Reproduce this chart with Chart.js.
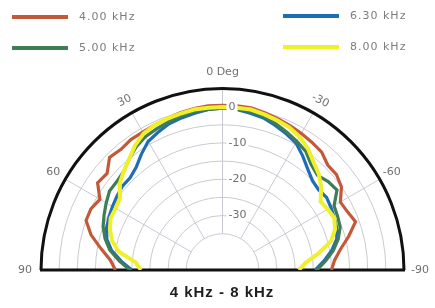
<!DOCTYPE html>
<html lang="en">
<head>
    <meta charset="UTF-8">
    <title>4 kHz - 8 kHz polar</title>
    <script src="https://cdn.jsdelivr.net/npm/chart.js"></script>
    <style>
        body {
            margin: 0;
            background-color: white;
        }
        canvas {
            display: block;
        }
    </style>
</head>
<body>
    <canvas id="polarChart" width="435" height="308"></canvas>

    <script>
        // angles in degrees, positive = left side
        const angles = [-90, -85, -80, -75, -70, -65, -60, -55, -50, -45, -40, -35, -30, -25, -20, -15, -10, -5,
                        0, 5, 10, 15, 20, 25, 30, 35, 40, 45, 50, 55, 60, 65, 70, 75, 80, 85, 90];

        const labels = ['4.00 kHz', '5.00 kHz', '6.30 kHz', '8.00 kHz'];

        // levels in dB
        const red4k    = [-15, -14, -12, -9, -6, -7, -7.5, -5, -4, -4, -2.5, -2, -1.5, -1, -0.5, 0, 0.5, 0.5,
                          0.5, 0.5, 0.3, 0, -0.5, -0.8, -1, -1, -1.5, -1, -3.5, -3, -6, -5, -5, -7.5, -11, -14, -15.5];
        const green5k  = [-19, -16.5, -14, -12, -10.5, -10, -9.5, -6.5, -7, -8, -7, -5, -4, -3, -2, -1, -0.5, -0.3,
                          -0.3, -0.5, -0.5, -1, -1.5, -2, -2.5, -3.5, -5, -6.5, -7, -7, -8, -9, -10, -11.5, -13.5, -16.5, -19.5];
        const blue63k  = [-19.5, -17, -14.5, -12.5, -11.5, -11, -10.5, -10, -10.5, -10, -8.5, -6.5, -4.5, -3.5, -2.5, -1.5, -1, -0.5,
                          -0.3, -0.5, -1, -1.5, -2, -3, -4, -6, -8, -9, -9, -9.5, -10, -10.5, -11, -12, -14, -17, -20];
        const yellow8k = [-24, -22, -18, -14, -12, -11, -11.5, -12, -9.5, -7.5, -6, -4, -2.5, -1.5, -1, -0.5, 0, 0,
                          0, 0, 0, -0.3, -0.5, -0.8, -1.5, -3, -5, -6.5, -8, -10.5, -11, -11, -12, -13.5, -16, -21, -22.5];

        const ringLevels = [-35, -30, -25, -20, -15, -10, -5, 0];
        const tickLevels = [0, -10, -20, -30];
        const spokeAngles = [-60, -30, 0, 30, 60];
        const angleLabels = ['90', '60', '30', '0 Deg', '-30', '-60', '-90'];

        const dbMin = -45;   // centre of the plot
        const dbMax = 5;     // outer black arc

        const colors = ['#c25a3a', '#3e7d55', '#1f6db6', '#f0f02a'];

        function toXY(levels) {
            return angles.map((a, i) => {
                const r = levels[i] - dbMin;
                const t = a * Math.PI / 180;
                return { x: -r * Math.sin(t), y: r * Math.cos(t) };
            });
        }

        const series = [red4k, green5k, blue63k, yellow8k];
        const drawOrder = [3, 1, 2, 0]; // lower draws on top

        const polarGrid = {
            id: 'polarGrid',
            beforeDatasetsDraw(chart) {
                const ctx = chart.ctx;
                const xs = chart.scales.x, ys = chart.scales.y;
                const cx = xs.getPixelForValue(0), cy = ys.getPixelForValue(0);
                const rad = db => xs.getPixelForValue(db - dbMin) - cx;
                ctx.save();
                ctx.strokeStyle = '#c9c9d3';
                ctx.lineWidth = 1;
                ringLevels.forEach(db => {
                    ctx.beginPath();
                    ctx.arc(cx, cy, rad(db), Math.PI, 2 * Math.PI);
                    ctx.stroke();
                });
                spokeAngles.forEach(a => {
                    const t = a * Math.PI / 180;
                    const r0 = rad(ringLevels[0]), r1 = rad(dbMax);
                    ctx.beginPath();
                    ctx.moveTo(cx - r0 * Math.sin(t), cy - r0 * Math.cos(t));
                    ctx.lineTo(cx - r1 * Math.sin(t), cy - r1 * Math.cos(t));
                    ctx.stroke();
                });
                // outer arc and base line
                ctx.strokeStyle = '#111';
                ctx.lineWidth = 3;
                ctx.beginPath();
                ctx.arc(cx, cy, rad(dbMax), Math.PI, 2 * Math.PI);
                ctx.stroke();
                ctx.beginPath();
                ctx.moveTo(cx - rad(dbMax) - 1, cy);
                ctx.lineTo(cx + rad(dbMax) + 1, cy);
                ctx.stroke();
                ctx.restore();
            },
            afterDatasetsDraw(chart) {
                const ctx = chart.ctx;
                const xs = chart.scales.x, ys = chart.scales.y;
                const cx = xs.getPixelForValue(0), cy = ys.getPixelForValue(0);
                const rad = db => xs.getPixelForValue(db - dbMin) - cx;
                ctx.save();
                ctx.font = '11px "DejaVu Sans"';
                ctx.textBaseline = 'middle';
                ctx.textAlign = 'left';
                tickLevels.forEach(db => {
                    const txt = db === 0 ? '0' : String(db);
                    const w = ctx.measureText(txt).width;
                    const y = cy - rad(db);
                    ctx.fillStyle = 'white';
                    ctx.fillRect(cx + 4, y - 6, w + 4, 12);
                    ctx.fillStyle = '#6f6f6f';
                    ctx.fillText(txt, cx + 6, y);
                });

                // angle labels round the outside
                ctx.textAlign = 'center';
                const rl = rad(dbMax) + 14;
                angleLabels.forEach((txt, i) => {
                    const a = 90 - i * 30;
                    const t = a * Math.PI / 180;
                    let x = cx - rl * Math.sin(t), y = cy - rl * Math.cos(t);
                    if (a === 0) y -= 2;
                    if (Math.abs(a) === 90) { y = cy; x = cx + (a > 0 ? -(rl + 2) : rl + 2); }
                    ctx.save();
                    ctx.translate(x, y);
                    if (Math.abs(a) === 30) ctx.rotate(-t * 0.9);
                    ctx.fillStyle = '#6f6f6f';
                    ctx.fillText(txt, 0, 0);
                    ctx.restore();
                });
                ctx.restore();
            },
            afterDraw(chart) {
                const ctx = chart.ctx;
                ctx.save();
                // legend, two columns
                const spots = [[12, 17], [12, 48], [283, 16], [283, 47]];
                ctx.font = '11px "DejaVu Sans"';
                ctx.letterSpacing = '1px';
                ctx.textBaseline = 'middle';
                ctx.textAlign = 'left';
                labels.forEach((lab, i) => {
                    const [x, y] = spots[i];
                    ctx.strokeStyle = colors[i];
                    ctx.lineWidth = 4;
                    ctx.beginPath();
                    ctx.moveTo(x, y);
                    ctx.lineTo(x + 56, y);
                    ctx.stroke();
                    ctx.fillStyle = '#7d7d7d';
                    ctx.fillText(lab, x + 67, y);
                });
                // title
                ctx.font = 'bold 15px "Liberation Sans"';
                ctx.letterSpacing = '1px';
                ctx.textAlign = 'center';
                ctx.fillStyle = '#1e1e1e';
                ctx.fillText('4 kHz - 8 kHz', 222, 293);
                ctx.restore();
            }
        };

        const ctx = document.getElementById('polarChart').getContext('2d');
        const chart = new Chart(ctx, {
            type: 'scatter',
            data: {
                datasets: series.map((s, i) => ({
                    label: labels[i],
                    data: toXY(s),
                    showLine: true,
                    borderColor: colors[i],
                    borderWidth: i === 3 ? 4 : 3.2,
                    pointRadius: 0,
                    fill: false,
                    tension: 0,
                    order: drawOrder[i]
                }))
            },
            options: {
                responsive: false,
                animation: false,
                layout: { padding: { left: 41, right: 31, top: 89, bottom: 38 } },
                scales: {
                    x: { type: 'linear', min: -50, max: 50, display: false },
                    y: { type: 'linear', min: 0, max: 50, display: false }
                },
                plugins: {
                    legend: { display: false },
                    tooltip: { enabled: false }
                }
            },
            plugins: [polarGrid]
        });
    </script>
</body>
</html>
